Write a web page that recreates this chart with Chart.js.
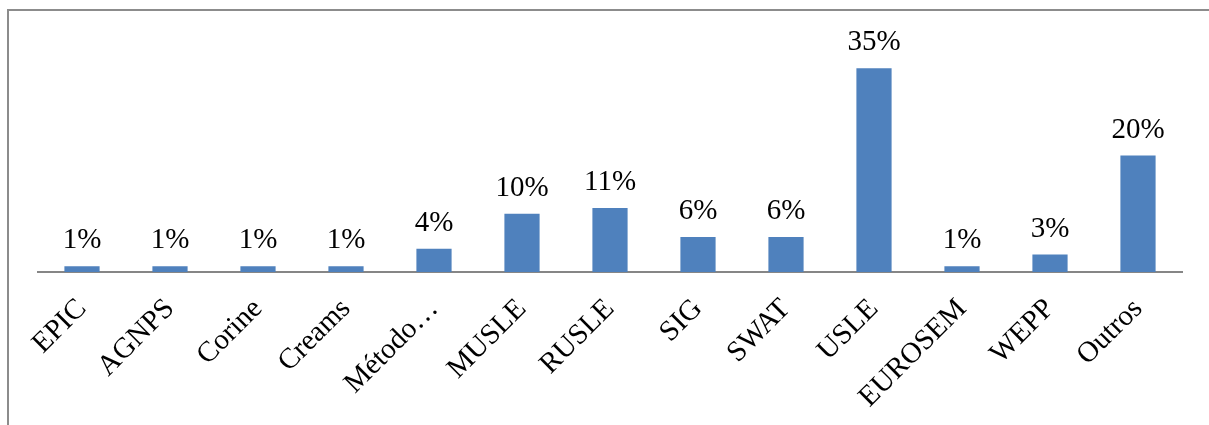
<!DOCTYPE html>
<html><head><meta charset="utf-8">
<script src="https://cdn.jsdelivr.net/npm/chart.js@4.4.0/dist/chart.umd.min.js"></script>
<style>html,body{margin:0;padding:0;background:#fff;}#wrap{width:1209px;height:425px;position:relative;}</style>
</head><body><div id="wrap"><canvas id="c" width="1209" height="425"></canvas></div>
<script>
const categories = ["EPIC","AGNPS","Corine","Creams","Método…","MUSLE","RUSLE","SIG","SWAT","USLE","EUROSEM","WEPP","Outros"];
const values = [1,1,1,1,4,10,11,6,6,35,1,3,20];
const valueLabels = ["1%","1%","1%","1%","4%","10%","11%","6%","6%","35%","1%","3%","20%"];

const FONT = "'Liberation Serif','Times New Roman',serif";

const frame = {
  id:'frame',
  beforeDraw(chart){
    const ctx = chart.ctx;
    ctx.save();
    ctx.strokeStyle = '#8c8c8c';
    ctx.lineWidth = 2;
    ctx.beginPath();
    ctx.moveTo(8, 425); ctx.lineTo(8, 10); ctx.lineTo(1209, 10);
    ctx.stroke();
    ctx.restore();
  }
};
const valueLabelPlugin = {
  id:'valueLabels',
  afterDatasetsDraw(chart){
    const ctx = chart.ctx;
    const meta = chart.getDatasetMeta(0);
    ctx.save();
    ctx.font = "29px " + FONT;
    ctx.fillStyle = '#000';
    ctx.textAlign = 'center';
    ctx.textBaseline = 'alphabetic';
    meta.data.forEach((bar, i) => {
      ctx.fillText(valueLabels[i], bar.x, bar.y - 18);
    });
    ctx.restore();
  }
};

new Chart(document.getElementById('c'), {
  type:'bar',
  data:{ labels:categories, datasets:[{ data:values, backgroundColor:'#4F81BD', borderWidth:0, barPercentage:0.4, categoryPercentage:1.0 }]},
  options:{
    responsive:false, animation:false, devicePixelRatio:1,
    layout:{ padding:{ left:38, right:27, top:39, bottom:0 } },
    plugins:{ legend:{display:false}, tooltip:{enabled:false} },
    scales:{
      x:{
        grid:{ display:false, drawTicks:false },
        border:{ display:true, color:'#868686', width:2 },
        ticks:{ color:'#000', font:{ family:FONT, size:29 }, minRotation:45, maxRotation:45, autoSkip:false, padding:20 },
        afterFit(scale){ scale.height = 153; }
      },
      y:{ display:false, min:0, max:40 }
    }
  },
  plugins:[frame, valueLabelPlugin]
});
</script></body></html>
